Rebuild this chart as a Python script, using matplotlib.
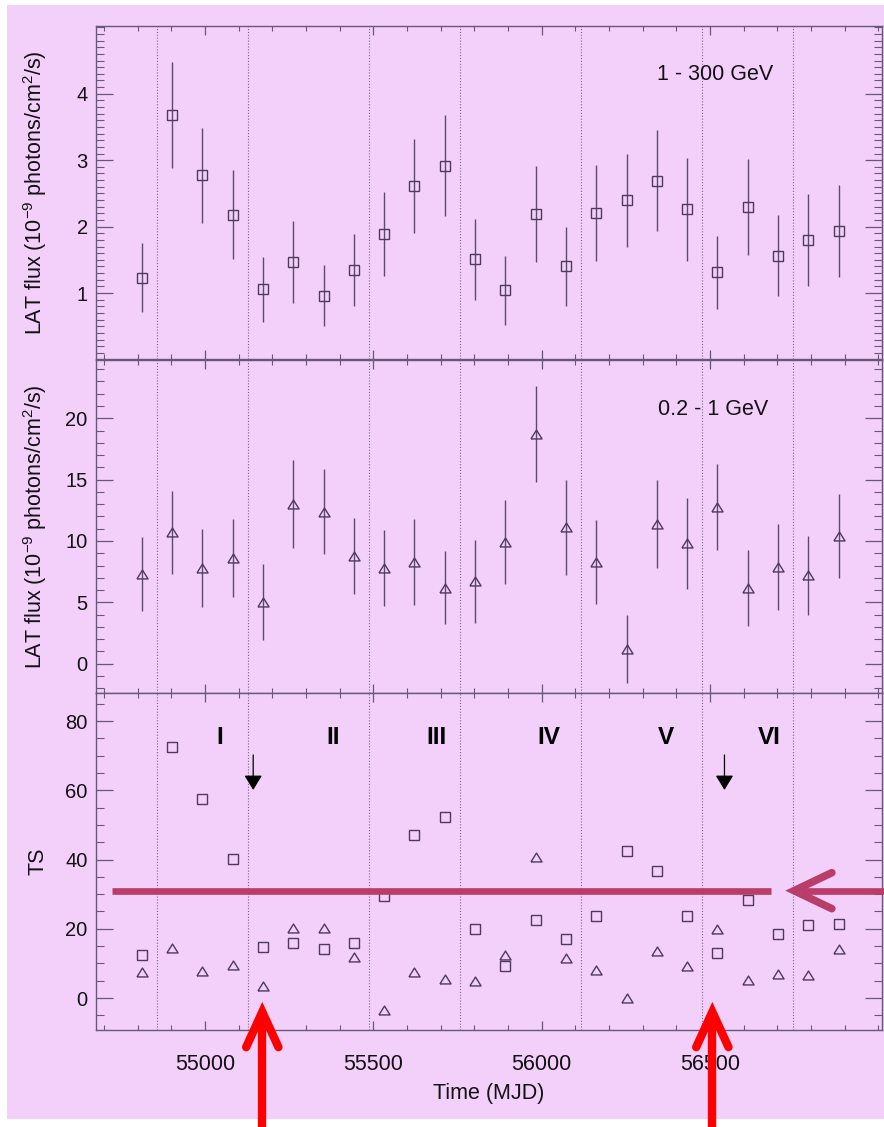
import matplotlib
matplotlib.use("Agg")
import matplotlib.pyplot as plt
from matplotlib.lines import Line2D
from matplotlib.patches import Rectangle
import numpy as np

plt.rcParams['font.family'] = ['Liberation Sans', 'DejaVu Sans']
plt.rcParams['mathtext.fontset'] = 'custom'
plt.rcParams['mathtext.rm'] = 'Liberation Sans'
plt.rcParams['mathtext.it'] = 'Liberation Sans:italic'
plt.rcParams['axes.unicode_minus'] = False

# ---------------- data ----------------
times = [54812, 54902, 54992, 55082, 55172, 55262, 55352, 55442, 55532, 55622,
         55712, 55802, 55892, 55982, 56072, 56162, 56252, 56342, 56432, 56522,
         56612, 56702, 56792, 56882]

flux_high = [1.23, 3.68, 2.77, 2.18, 1.06, 1.47, 0.96, 1.35, 1.89, 2.61,
             2.92, 1.51, 1.04, 2.19, 1.40, 2.21, 2.40, 2.69, 2.26, 1.31,
             2.30, 1.56, 1.80, 1.93]
err_high = [0.52, 0.80, 0.72, 0.67, 0.49, 0.62, 0.46, 0.54, 0.63, 0.71,
            0.76, 0.61, 0.52, 0.72, 0.60, 0.72, 0.70, 0.76, 0.78, 0.55,
            0.72, 0.61, 0.69, 0.69]

flux_low = [7.3, 10.7, 7.8, 8.6, 5.0, 13.0, 12.4, 8.8, 7.8, 8.3,
            6.2, 6.7, 9.9, 18.7, 11.1, 8.3, 1.2, 11.4, 9.8, 12.8,
            6.2, 7.9, 7.2, 10.4]
err_low = [3.0, 3.4, 3.2, 3.2, 3.1, 3.6, 3.5, 3.1, 3.1, 3.5,
           3.0, 3.4, 3.4, 3.9, 3.9, 3.4, 2.8, 3.6, 3.7, 3.5,
           3.1, 3.5, 3.2, 3.4]

ts_high = [12.3, 72.6, 57.6, 40.2, 14.8, 15.9, 14.1, 15.9, 29.6, 47.2,
           52.4, 20.0, 9.3, 22.4, 17.0, 23.6, 42.5, 36.7, 23.6, 13.1,
           28.4, 18.6, 21.0, 21.5]
ts_low = [7.6, 14.5, 7.8, 9.6, 3.4, 20.2, 20.2, 11.8, -3.5, 7.6,
          5.6, 4.8, 12.5, 40.8, 11.6, 8.1, -0.1, 13.6, 9.2, 20.0,
          5.2, 6.9, 6.6, 14.2]

period_edges = [54857, 55127, 55487, 55757, 56117, 56477, 56747]
period_names = ['I', 'II', 'III', 'IV', 'V', 'VI']
period_label_x = [55045, 55380, 55688, 56021, 56370, 56677]
upper_limit_times = [55143, 56543]
ts_threshold = 31
marked_times = [55170, 56507]

# ---------------- style ----------------
W, H = 884, 1127
BG = '#F2D0FA'
MK = '#4f3a5c'
ERR = '#5e4a6a'
SP = '#6a5676'
TXT = '#151015'

fig = plt.figure(figsize=(W / 100, H / 100), dpi=100)
fig.patch.set_facecolor('white')
fig.add_artist(Rectangle((7 / W, 1 - 1119 / H), (884 - 7) / W, (1119 - 5) / H,
                         transform=fig.transFigure, facecolor=BG,
                         edgecolor='none', zorder=-10))

left, right = 96, 882
bounds = [(26, 359.5), (359.5, 693), (693, 1030)]
axes = []
for (t, b) in bounds:
    ax = fig.add_axes([left / W, 1 - b / H, (right - left) / W, (b - t) / H])
    ax.set_facecolor(BG)
    axes.append(ax)

xlim = (54676, 57011)
tri = [(-1, -0.8), (1, -0.8), (0, 0.8), (-1, -0.8)]

for ax in axes:
    ax.set_xlim(*xlim)
    for s in ax.spines.values():
        s.set_color(SP)
        s.set_linewidth(1.0)
    for e in period_edges:
        ax.axvline(e, color='#7a6886', lw=0.8, ls=(0, (1, 1.6)), zorder=1)
    ax.set_xticks([55000, 55500, 56000, 56500])
    ax.set_xticks(np.arange(54700, 57001, 100), minor=True)
    ax.tick_params(axis='x', which='major', direction='in', length=6.5, width=0.9,
                   color=SP, top=True, bottom=True, labelsize=15.5, pad=17,
                   labelcolor=TXT)
    ax.tick_params(axis='x', which='minor', direction='in', length=3.5, width=0.8,
                   color=SP, top=True, bottom=True)
    ax.tick_params(axis='y', which='major', direction='in', length=12, width=0.9,
                   color=SP, left=True, right=True, labelsize=14.5, pad=6,
                   labelcolor=TXT)
    ax.tick_params(axis='y', which='minor', direction='in', length=6, width=0.8,
                   color=SP, left=True, right=True)

# --- top panel
ax1 = axes[0]
ax1.set_ylim(0.0, 5.02)
ax1.set_yticks([1, 2, 3, 4])
ax1.set_yticks(np.arange(0.1, 5.01, 0.1), minor=True)
ax1.errorbar(times, flux_high, yerr=err_high, fmt='none', ecolor=ERR,
             elinewidth=1.0, capsize=0, zorder=3)
ax1.plot(times, flux_high, ls='none', marker='s', ms=7.4, mfc='none',
         mec=MK, mew=1.0, zorder=4)
ax1.text(56516, 4.29, '1 - 300 GeV', ha='center', va='center',
         fontsize=15.5, color=TXT)
ax1.tick_params(axis='x', labelbottom=False)

# --- middle panel
ax2 = axes[1]
ax2.set_ylim(-2.39, 24.79)
ax2.set_yticks([0, 5, 10, 15, 20])
ax2.set_yticks(np.arange(-2, 25, 1), minor=True)
ax2.errorbar(times, flux_low, yerr=err_low, fmt='none', ecolor=ERR,
             elinewidth=1.0, capsize=0, zorder=3)
ax2.plot(times, flux_low, ls='none', marker=tri, ms=8.0, mfc='none',
         mec=MK, mew=1.0, zorder=4)
ax2.text(56510, 20.68, '0.2 - 1 GeV', ha='center', va='center',
         fontsize=15.5, color=TXT)
ax2.tick_params(axis='x', labelbottom=False)

ylab = r'LAT flux (10$^{\mathregular{-9}}$ photons/cm$^{\mathregular{2}}$/s)'
for ax in (ax1, ax2):
    ax.set_ylabel(ylab, fontsize=15.5, color=TXT)
    ax.yaxis.set_label_coords(-0.06, 0.5)

# --- bottom panel
ax3 = axes[2]
ax3.set_ylim(-9.24, 88.09)
ax3.set_yticks([0, 20, 40, 60, 80])
ax3.set_yticks(np.arange(-5, 86, 5), minor=True)
ax3.plot(times, ts_high, ls='none', marker='s', ms=7.4, mfc='none',
         mec=MK, mew=1.0, zorder=4)
ax3.plot(times, ts_low, ls='none', marker=tri, ms=8.0, mfc='none',
         mec=MK, mew=1.0, zorder=4)
for name, xl in zip(period_names, period_label_x):
    ax3.text(xl, 75.2, name, ha='center', va='center', fontsize=17.5,
             fontweight='bold', color='black')
for xt in upper_limit_times:
    ax3.annotate('', xy=(xt, 60.1), xytext=(xt, 70.2),
                 arrowprops=dict(arrowstyle='-|>,head_length=0.9,head_width=0.55',
                                 mutation_scale=10, color='black', lw=0.9,
                                 shrinkA=0, shrinkB=0), zorder=5)
ax3.set_ylabel('TS', fontsize=15.5, color=TXT)
ax3.yaxis.set_label_coords(-0.06, 0.5)
ax3.set_xlabel('Time (MJD)', fontsize=15.5, color=TXT, labelpad=6)

# --- overlay annotations (threshold line and markers)
mag = '#BA3C68'
ax3.add_line(Line2D([54723, 56681], [ts_threshold, ts_threshold], color=mag,
                    lw=4.8, solid_capstyle='butt', clip_on=False, zorder=6))
tipx = 56750
ax3.add_line(Line2D([tipx, 57030], [ts_threshold, ts_threshold], color=mag,
                    lw=4.8, solid_capstyle='butt', clip_on=False, zorder=6))
ax3.add_line(Line2D([56862, tipx, 56862], [36.2, ts_threshold, 25.8], color=mag,
                    lw=5.5, solid_capstyle='round', solid_joinstyle='miter',
                    clip_on=False, zorder=6))

for mt in marked_times:
    ax3.add_line(Line2D([mt, mt], [-40, -4.6], color='#FF0000', lw=6,
                        solid_capstyle='butt', clip_on=False, zorder=7))
    ax3.add_line(Line2D([mt - 48, mt, mt + 48], [-14.2, -4.0, -14.2],
                        color='#FF0000', lw=6, solid_capstyle='round',
                        solid_joinstyle='miter', clip_on=False, zorder=7))

fig.savefig('out.png', dpi=100, facecolor=fig.get_facecolor())
